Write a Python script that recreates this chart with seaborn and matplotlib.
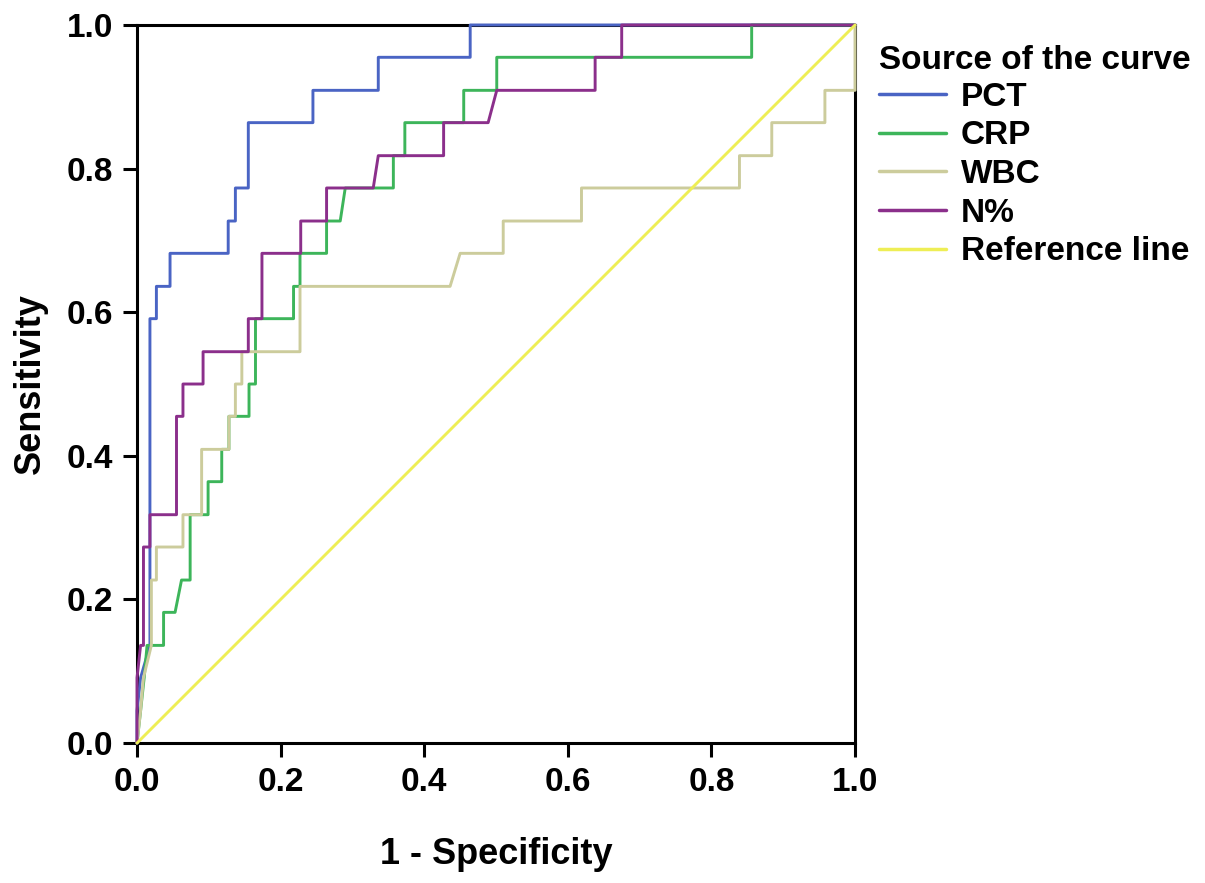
import matplotlib.pyplot as plt
import pandas as pd
import seaborn as sns

# ROC vertices (1 - specificity, sensitivity)
pct_fpr = [0, 0, 0.005, 0.018, 0.018, 0.027, 0.027, 0.046, 0.046, 0.127, 0.127,
           0.137, 0.137, 0.155, 0.155, 0.245, 0.245, 0.336, 0.336, 0.464, 0.464, 1.0]
pct_tpr = [0, 0.045, 0.091, 0.136, 0.591, 0.591, 0.636, 0.636, 0.682, 0.682, 0.727,
           0.727, 0.773, 0.773, 0.864, 0.864, 0.909, 0.909, 0.955, 0.955, 1.0, 1.0]

crp_fpr = [0, 0.005, 0.010, 0.014, 0.037, 0.037, 0.053, 0.062, 0.074, 0.074, 0.099,
           0.099, 0.118, 0.118, 0.128, 0.128, 0.156, 0.156, 0.165, 0.165, 0.218,
           0.218, 0.227, 0.227, 0.264, 0.264, 0.283, 0.290, 0.357, 0.357, 0.373,
           0.373, 0.455, 0.455, 0.501, 0.501, 0.856, 0.856, 1.0]
crp_tpr = [0, 0.045, 0.091, 0.136, 0.136, 0.182, 0.182, 0.227, 0.227, 0.318, 0.318,
           0.364, 0.364, 0.409, 0.409, 0.455, 0.455, 0.5, 0.5, 0.591, 0.591,
           0.636, 0.636, 0.682, 0.682, 0.727, 0.727, 0.773, 0.773, 0.818, 0.818,
           0.864, 0.864, 0.909, 0.909, 0.955, 0.955, 1.0, 1.0]

wbc_fpr = [0, 0.005, 0.009, 0.020, 0.020, 0.027, 0.027, 0.064, 0.064, 0.090, 0.090,
           0.128, 0.128, 0.137, 0.137, 0.146, 0.146, 0.227, 0.227, 0.436, 0.450,
           0.510, 0.510, 0.619, 0.619, 0.839, 0.839, 0.884, 0.884, 0.958, 0.958,
           1.0, 1.0]
wbc_tpr = [0, 0.045, 0.091, 0.136, 0.227, 0.227, 0.273, 0.273, 0.318, 0.318, 0.409,
           0.409, 0.455, 0.455, 0.5, 0.5, 0.545, 0.545, 0.636, 0.636, 0.682,
           0.682, 0.727, 0.727, 0.773, 0.773, 0.818, 0.818, 0.864, 0.864, 0.909,
           0.909, 1.0]

n_fpr = [0, 0, 0.005, 0.009, 0.009, 0.018, 0.018, 0.055, 0.055, 0.064, 0.064,
         0.092, 0.092, 0.155, 0.155, 0.174, 0.174, 0.228, 0.228, 0.264, 0.264,
         0.329, 0.336, 0.427, 0.427, 0.489, 0.501, 0.638, 0.638, 0.675, 0.675, 1.0]
n_tpr = [0, 0.091, 0.136, 0.136, 0.273, 0.273, 0.318, 0.318, 0.455, 0.455, 0.5,
         0.5, 0.545, 0.545, 0.591, 0.591, 0.682, 0.682, 0.727, 0.727, 0.773,
         0.773, 0.818, 0.818, 0.864, 0.864, 0.909, 0.909, 0.955, 0.955, 1.0, 1.0]

ref_fpr = [0, 1]
ref_tpr = [0, 1]

curves = ["PCT", "CRP", "WBC", "N%", "Reference line"]
colors = ["#4a64c4", "#3db55a", "#cccc9c", "#8b2f8b", "#eeee55"]

frames = []
for name, fx, fy in zip(curves,
                        [pct_fpr, crp_fpr, wbc_fpr, n_fpr, ref_fpr],
                        [pct_tpr, crp_tpr, wbc_tpr, n_tpr, ref_tpr]):
    frames.append(pd.DataFrame({"fpr": fx, "tpr": fy, "curve": name}))
df = pd.concat(frames, ignore_index=True)

sns.set_style("white")
plt.rcParams["font.family"] = ["Liberation Sans", "DejaVu Sans"]
plt.rcParams["font.weight"] = "bold"
plt.rcParams["text.color"] = "black"
plt.rcParams["axes.labelcolor"] = "black"
plt.rcParams["xtick.color"] = "black"
plt.rcParams["ytick.color"] = "black"

fig = plt.figure(figsize=(12.05, 8.83), dpi=100)
ax = fig.add_axes([0.1137, 0.1585, 0.5959, 0.8132])
sns.lineplot(data=df, x="fpr", y="tpr", hue="curve", hue_order=curves,
             palette=colors, sort=False, estimator=None, legend=False,
             linewidth=2.1, ax=ax)
for ln in ax.lines:
    ln.set_clip_on(False)
    ln.set_zorder(3)

ax.set_xlim(0, 1)
ax.set_ylim(0, 1)
ticks = [0, 0.2, 0.4, 0.6, 0.8, 1.0]
ax.set_xticks(ticks)
ax.set_yticks(ticks)
ax.set_xticklabels(["%.1f" % t for t in ticks])
ax.set_yticklabels(["%.1f" % t for t in ticks])
ax.tick_params(axis="both", direction="out", length=10, width=2.2,
               labelsize=24, pad=7, color="black", labelcolor="black",
               bottom=True, left=True)
for sp in ax.spines.values():
    sp.set_linewidth(2.2)
    sp.set_color("black")
ax.set_xlabel("1 - Specificity", fontsize=26, fontweight="bold", labelpad=28)
ax.set_ylabel("Sensitivity", fontsize=26, fontweight="bold", labelpad=14)

handles = ax.lines[:5]
leg = fig.legend(handles, curves, loc="upper left",
                 bbox_to_anchor=(879 / 1205, 1 - 45 / 883),
                 frameon=False, fontsize=24, title="Source of the curve",
                 title_fontproperties={"size": 24, "weight": "bold"},
                 alignment="left", borderpad=0, labelspacing=0.23,
                 handlelength=2.0, handletextpad=0.45, borderaxespad=0)
leg._legend_box.sep = 4
for h in leg.legend_handles:
    h.set_linewidth(2.5)

fig.savefig("out.png", dpi=100)
